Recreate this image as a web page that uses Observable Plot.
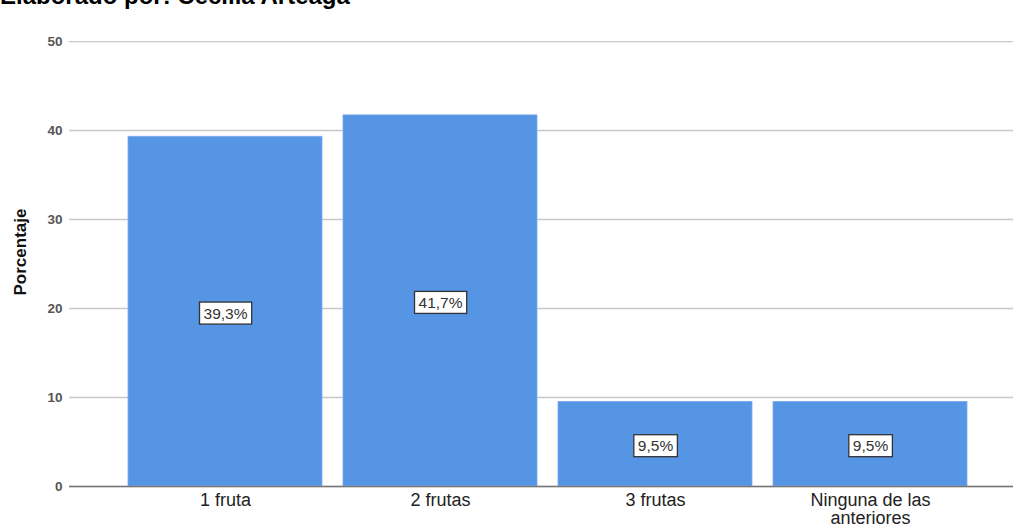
<!DOCTYPE html>
<html>
<head>
<meta charset="utf-8">
<script src="https://cdn.jsdelivr.net/npm/d3@7"></script>
<script src="https://cdn.jsdelivr.net/npm/@observablehq/plot@0.6"></script>
<style>
  html, body { margin: 0; padding: 0; background: #fff; overflow: hidden; }
  #wrap { position: relative; width: 1013px; height: 532px; }
  #title { position: absolute; left: 0; top: -16px; font: bold 24px "Liberation Sans", Arial, sans-serif; line-height: 24px; color: #000; white-space: nowrap; }
  #chart svg { display: block; font-family: "Liberation Sans", Arial, sans-serif; }
  g[aria-label="x-axis tick label"] text { font-size: 18px; fill: #222; }
  g[aria-label="y-axis tick label"] text { font-size: 13.5px; font-weight: bold; fill: #555; }
</style>
</head>
<body>
<div id="wrap">
  <div id="chart"></div>
  <div id="title">Elaborado por: Cecilia Arteaga</div>
</div>
<script>
const categories = ["1 fruta", "2 frutas", "3 frutas", "Ninguna de las\nanteriores"];
const values = [39.3, 41.7, 9.5, 9.5];
const valueLabels = ["39,3%", "41,7%", "9,5%", "9,5%"];
const yTicks = [0, 10, 20, 30, 40, 50];
const yLabel = "Porcentaje";

const data = categories.map((c, i) => ({cat: c, v: values[i], lbl: valueLabels[i]}));

const chart = Plot.plot({
  width: 1013,
  height: 532,
  marginTop: 17,
  marginBottom: 46,
  marginLeft: 69,
  marginRight: 0,
  x: {domain: categories, paddingInner: 0.1, paddingOuter: 0.24, align: 0.56},
  y: {domain: [0, 52.7]},
  marks: [
    Plot.gridY(yTicks, {stroke: "#c8c8c8", strokeOpacity: 1, strokeWidth: 1.3}),
    Plot.barY(data, {x: "cat", y: "v", fill: "#5595e4", stroke: "#7aaaf0", strokeWidth: 0.8}),
    Plot.ruleY([0], {stroke: "#777", strokeWidth: 1.5}),
    Plot.ruleX([0], {frameAnchor: "left", y1: 0, y2: 52.7, stroke: "#777", strokeWidth: 1.5}),
    Plot.axisY(yTicks, {tickSize: 0, tickPadding: 7, label: null}),
    Plot.axisX({tickSize: 0, tickPadding: 7, label: null, lineHeight: 1.0}),
    Plot.text([yLabel], {frameAnchor: "left", textAnchor: "middle", dx: -49, rotate: -90, fontSize: 17, fontWeight: "bold", fill: "#111"}),
    Plot.text(data, {x: "cat", y: d => d.v / 2, text: "lbl", fontSize: 15.5, fill: "#333", dy: 2, className: "vlabel"})
  ]
});
document.getElementById("chart").appendChild(chart);

// draw bordered white boxes behind the value labels
d3.select(chart).selectAll(".vlabel text").each(function() {
  const b = this.getBBox();
  const padX = 4, padY = 3;
  d3.select(this.parentNode).insert("rect", () => this)
    .attr("x", b.x - padX).attr("y", b.y - padY + 0.5)
    .attr("width", b.width + 2 * padX).attr("height", b.height + 2 * padY - 1)
    .attr("fill", "#fff").attr("stroke", "#333").attr("stroke-width", 1.3)
    .attr("transform", this.getAttribute("transform"));
});
</script>
</body>
</html>
